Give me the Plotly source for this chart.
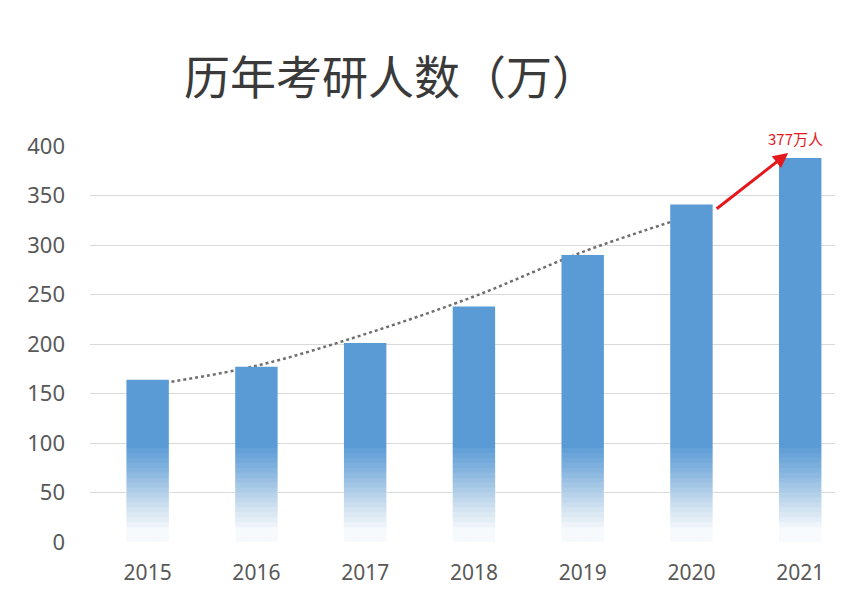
import plotly.graph_objects as go

# data
years = ["2015", "2016", "2017", "2018", "2019", "2020", "2021"]
applicants = [164, 177, 201, 238, 290, 341, 388]
trend_years = ["2015", "2016", "2017", "2018", "2019", "2020"]
trend_values = [158, 178, 210, 248, 293, 330]
y_ticks = [0, 50, 100, 150, 200, 250, 300, 350, 400]
title_text = "历年考研人数（万）"
note_text = "377万人"

BAR_BLUE = "#5b9bd5"
GRAY_TEXT = "#595959"
RED = "#e3191e"
# white layers laid over the bars to fade them towards the bottom
FADE_LAYERS = [(95, 0.05), (90, 0.05), (85, 0.06), (80, 0.06), (75, 0.07),
               (70, 0.08), (65, 0.09), (60, 0.10), (55, 0.11), (50, 0.12),
               (45, 0.14), (40, 0.16), (35, 0.18), (30, 0.20), (25, 0.25),
               (20, 0.35), (15, 0.60)]


def make_figure():
    """
    ============================================================================
     Description: Bar chart of applicants per year with a trend curve.
    ============================================================================
    """
    fig = go.Figure()

    fig.add_trace(go.Scatter(x=trend_years, y=trend_values, mode="lines",
                             line=dict(color="#6f6f6f", width=2.5, dash="dot",
                                       shape="spline"),
                             zorder=0, showlegend=False))

    fig.add_trace(go.Bar(x=years, y=applicants, width=0.39,
                         marker=dict(color=BAR_BLUE, line=dict(width=0)),
                         zorder=1, showlegend=False))

    for height, opacity in FADE_LAYERS:
        fig.add_trace(go.Bar(x=years, y=[height] * len(years), width=0.41,
                             marker=dict(color="white", line=dict(width=0)),
                             opacity=opacity, zorder=1, showlegend=False,
                             hoverinfo="skip"))

    # red arrow and label pointing at the 2021 bar (x given as category index)
    last = len(years) - 1
    fig.add_annotation(x=last, y=applicants[-1] + 5, xshift=-12,
                       ax=-73, ay=57, text="", showarrow=True,
                       arrowhead=2, arrowsize=1, arrowwidth=3,
                       arrowcolor=RED)
    fig.add_annotation(x=last, y=applicants[-1], yshift=19, xshift=-5,
                       yanchor="middle", text=note_text, showarrow=False,
                       font=dict(family="Noto Sans CJK SC", size=15,
                                 color=RED))

    # the page body adds an 8px offset, margins allow for it
    fig.update_layout(
        width=845, height=596,
        margin=dict(l=82, r=18, t=138, b=62),
        paper_bgcolor="white", plot_bgcolor="white",
        barmode="overlay",
        title=dict(text=title_text, x=0.4533, xanchor="center",
                   y=0.8826, yanchor="middle", xref="container",
                   yref="container",
                   font=dict(family="Noto Sans CJK SC", size=46,
                             color="#3a3a3a")),
        font=dict(family="Noto Sans", color=GRAY_TEXT),
    )
    fig.update_xaxes(type="category", range=[-0.53, 6.32],
                     showgrid=False, showline=True, linecolor="#bfbfbf",
                     linewidth=1, ticks="", ticklabelstandoff=12,
                     tickfont=dict(size=21, color=GRAY_TEXT))
    fig.update_yaxes(range=[0, 400], tickvals=y_ticks, showgrid=True,
                     gridcolor="#d9d9d9", gridwidth=1, zeroline=False,
                     showline=False, ticks="", ticklabelstandoff=24,
                     tickfont=dict(size=22, color=GRAY_TEXT))
    return fig


fig = make_figure()
fig.write_html("out.html")
